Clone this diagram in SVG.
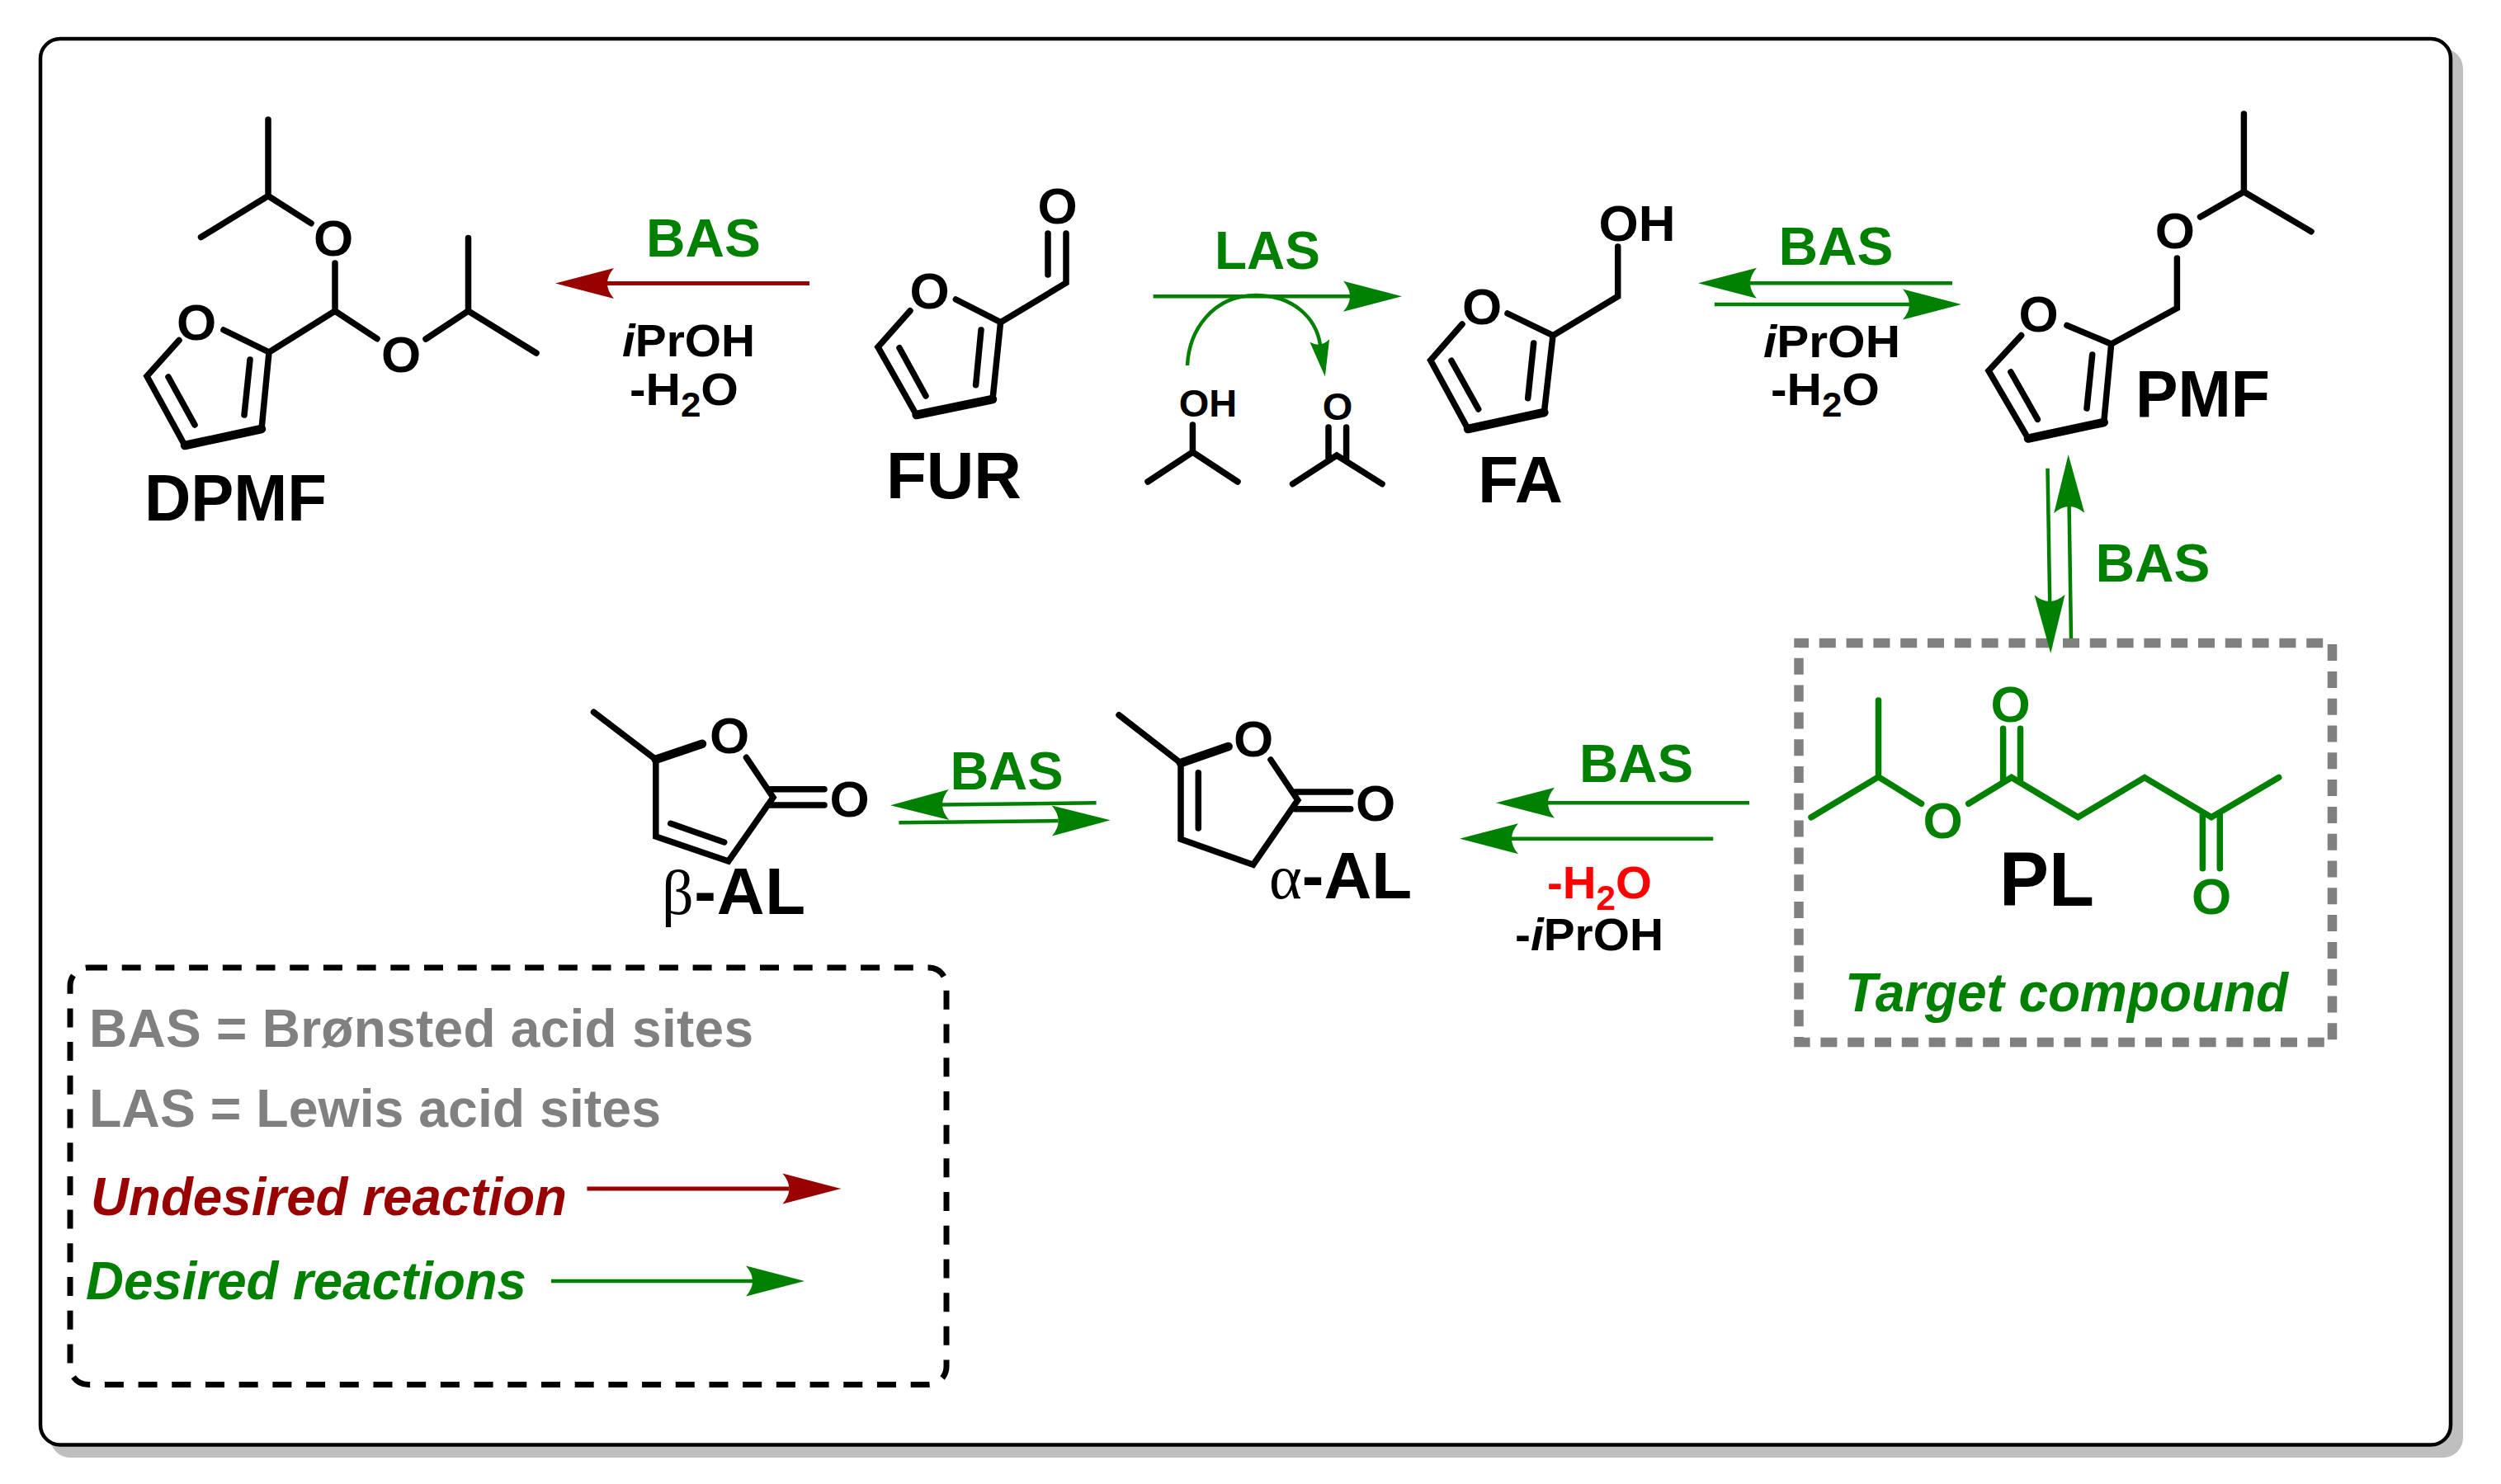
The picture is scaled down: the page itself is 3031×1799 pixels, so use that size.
<svg xmlns="http://www.w3.org/2000/svg" width="3031" height="1799" viewBox="0 0 3031 1799">
<style>
text{font-family:"Liberation Sans",Arial,sans-serif;font-weight:700;fill:#000}
.bond{fill:none;stroke:#000;stroke-width:7.500;stroke-linecap:round;stroke-linejoin:miter}
.thick{stroke-width:10.500}
.gb{stroke:#008000}
.g{fill:#008000}
.dr{fill:#990000}
.r{fill:#ff0000}
.gy{fill:#808080}
.i{font-style:italic}
.at{font-size:62px;text-anchor:middle}
.sat{font-size:47px;text-anchor:middle}
.name{font-size:80px}
.cat{font-size:64px}
.cond{font-size:56px}
.leg{font-size:64px}
.sub{font-size:42px}
.gsym{font-family:"Liberation Serif",serif;font-weight:400;font-size:76px}
.ag{fill:none;stroke:#008000;stroke-width:4.500}
.ar{fill:none;stroke:#990000;stroke-width:5}
</style>
<defs>
<marker id="hg" markerUnits="userSpaceOnUse" markerWidth="74" markerHeight="40" refX="9" refY="19.500" orient="auto" overflow="visible"><path d="M72,19.500 L1,1 Q17,19.500 1,38 Z" fill="#008000"/></marker>
<marker id="hr" markerUnits="userSpaceOnUse" markerWidth="74" markerHeight="40" refX="9" refY="19.500" orient="auto" overflow="visible"><path d="M72,19.500 L1,1 Q17,19.500 1,38 Z" fill="#990000"/></marker>
<marker id="hc" markerUnits="userSpaceOnUse" markerWidth="46" markerHeight="28" refX="5" refY="12" orient="auto" overflow="visible"><path d="M44,12 L0,0 Q9,12 0,24 Z" fill="#008000"/></marker>
</defs>

<g id="frame">
<rect x="61" y="59" width="2924" height="1708" rx="24" fill="#bfbfbf"/>
<rect x="49" y="47" width="2921" height="1704.500" rx="24" fill="#fff" stroke="#000" stroke-width="4.500"/>
</g>

<g id="DPMF">
<path class="bond" d="M325,145V237.500M243.500,287.500L325,237.500L377,270.700M406,319V377M326,427L406,377L457,410.700M516,411L567.500,377V288.500M567.500,377L650,428M271,400L326,427L317,520M224,540L178,456L217,412.500M303,436L296,503M204,457L236,515"/>
<path class="bond thick" d="M317,520L224,540"/>
<text class="at" x="404" y="310">O</text>
<text class="at" x="486" y="451">O</text>
<text class="at" x="238" y="412">O</text>
<text class="name" x="175" y="631" textLength="221" lengthAdjust="spacingAndGlyphs">DPMF</text>
</g>

<g id="FUR">
<path class="bond" d="M1270,283V333M1292,283V343L1212.600,390.700L1203,484M1158.400,363L1212.600,390.700M1110.600,503L1064,420.700L1103,376.700M1189,400L1182.600,466.700M1090,421.700L1122,480"/>
<path class="bond thick" d="M1203,484L1110.600,503"/>
<text class="at" x="1281.500" y="271">O</text>
<text class="at" x="1126.500" y="374">O</text>
<text class="name" x="1074" y="604" textLength="164" lengthAdjust="spacingAndGlyphs">FUR</text>
</g>

<g id="isopropanol">
<path class="bond" d="M1445.400,515V548M1391,584L1445.400,548L1500,584"/>
<text class="sat" x="1464" y="505">OH</text>
</g>

<g id="acetone">
<path class="bond" d="M1610,518V558M1631.600,518V558M1566.600,586.700L1620,552L1675,586.700"/>
<text class="sat" x="1621" y="509">O</text>
</g>

<g id="FA">
<path class="bond" d="M1960.700,299V359.300L1882,406.700L1871.400,500M1827,380L1882,406.700M1779,520L1733.700,436.700L1772,393M1858.700,416L1851.700,482.700M1759,437.300L1791.700,496"/>
<path class="bond thick" d="M1871.400,500L1779,520"/>
<text class="at" x="1984" y="292">OH</text>
<text class="at" x="1796" y="393">O</text>
<text class="name" x="1791" y="609" textLength="103" lengthAdjust="spacingAndGlyphs">FA</text>
</g>

<g id="PMF">
<path class="bond" d="M2719.400,138V232.500L2801,280.700M2666.500,263L2719.400,232.500M2638.400,313V373.600L2558.700,417L2549.700,512M2505,394.500L2558.700,417M2458,531.600L2410,449.500L2449.600,406.600M2535.700,430L2529,495M2436.900,451L2469.400,508.400"/>
<path class="bond thick" d="M2549.700,512L2458,531.600"/>
<text class="at" x="2635.800" y="301">O</text>
<text class="at" x="2470.700" y="402">O</text>
<text class="name" x="2588" y="505" textLength="163" lengthAdjust="spacingAndGlyphs">PMF</text>
</g>

<g id="PL">
<path class="bond gb" d="M2276.500,849V941.800M2195,990.700L2276.500,941.800L2328.600,974.200M2385.700,974.200L2437.800,942.500L2518.400,990.700L2599,942.500L2680,990.700L2761.700,942.500M2427.600,883.300V946M2448.500,883.300V946M2669.400,985.500V1052.700M2690.300,985.500V1052.700"/>
<text class="at g" x="2354.600" y="1016">O</text>
<text class="at g" x="2436.700" y="875">O</text>
<text class="at g" x="2680" y="1108">O</text>
<text x="2423" y="1097.500" font-size="92" textLength="115" lengthAdjust="spacingAndGlyphs">PL</text>
<text class="i g" x="2236" y="1226" font-size="66" textLength="537" lengthAdjust="spacingAndGlyphs">Target compound</text>
<rect x="2180" y="779.600" width="646.500" height="483.800" fill="none" stroke="#808080" stroke-width="11.500" stroke-dasharray="20 12.800" stroke-dashoffset="8"/>
</g>

<g id="alpha-AL">
<path class="bond" d="M1356,866.700L1431,925V1017.300L1518.700,1048.300L1572.800,970L1540,921M1452.300,936.700V1004M1569.700,960H1636.700M1569.700,980.700H1636.700"/>
<path class="bond thick" d="M1431,925L1488.700,905"/>
<text class="at" x="1519" y="917">O</text>
<text class="at" x="1667" y="995">O</text>
<text class="name" x="1538" y="1089"><tspan class="gsym">α</tspan>-AL</text>
</g>

<g id="beta-AL">
<path class="bond" d="M719.500,863.300L794.800,920.700V1014L882.800,1044L937,966.700L904.500,918.300M812.700,998.300L877.700,1021M933,956.700H999M933,976H999"/>
<path class="bond thick" d="M794.800,920.700L851,901.700"/>
<text class="at" x="884" y="913">O</text>
<text class="at" x="1029.500" y="990">O</text>
<text class="name" x="802" y="1108" textLength="174"><tspan class="gsym">β</tspan>-AL</text>
</g>

<g id="connectors">
<path class="ar" d="M981,343.600H736" marker-end="url(#hr)"/>
<path class="ag" d="M1397.600,359.300H1636" marker-end="url(#hg)"/>
<path class="ag" d="M1439,443C1441,400 1470,358 1522,358C1567,358 1595,385 1600,418" marker-end="url(#hc)"/>
<path class="ag" d="M2366,343.200H2121" marker-end="url(#hg)"/>
<path class="ag" d="M2077.800,369H2314" marker-end="url(#hg)"/>
<path class="ag" d="M2481.500,567.800L2484.200,729" marker-end="url(#hg)"/>
<path class="ag" d="M2510,774L2507.600,614" marker-end="url(#hg)"/>
<path class="ag" d="M2120,973.300H1876" marker-end="url(#hg)"/>
<path class="ag" d="M2076.300,1016.700H1832" marker-end="url(#hg)"/>
<path class="ag" d="M1328.600,973.300L1142,975.500" marker-end="url(#hg)"/>
<path class="ag" d="M1089.400,997.300L1282.700,995" marker-end="url(#hg)"/>
</g>

<g id="labels">
<text class="cat g" x="783" y="311" textLength="139" lengthAdjust="spacingAndGlyphs">BAS</text>
<text class="cond" x="754" y="432" textLength="161" lengthAdjust="spacingAndGlyphs"><tspan class="i">i</tspan>PrOH</text>
<text class="cond" x="763" y="491" textLength="132" lengthAdjust="spacingAndGlyphs">-H<tspan class="sub" dy="14">2</tspan><tspan dy="-14">O</tspan></text>
<text class="cat g" x="1472" y="326" textLength="128" lengthAdjust="spacingAndGlyphs">LAS</text>
<text class="cat g" x="2155.500" y="320.500" textLength="139" lengthAdjust="spacingAndGlyphs">BAS</text>
<text class="cond" x="2137" y="432.500" textLength="166" lengthAdjust="spacingAndGlyphs"><tspan class="i">i</tspan>PrOH</text>
<text class="cond" x="2146" y="490.500" textLength="132" lengthAdjust="spacingAndGlyphs">-H<tspan class="sub" dy="14">2</tspan><tspan dy="-14">O</tspan></text>
<text class="cat g" x="2539.500" y="704.800" textLength="139" lengthAdjust="spacingAndGlyphs">BAS</text>
<text class="cat g" x="1914" y="947.700" textLength="138" lengthAdjust="spacingAndGlyphs">BAS</text>
<text class="cond r" x="1875" y="1088.700" textLength="127" lengthAdjust="spacingAndGlyphs">-H<tspan class="sub r" dy="14">2</tspan><tspan dy="-14">O</tspan></text>
<text class="cond" x="1836" y="1151.700" textLength="180" lengthAdjust="spacingAndGlyphs">-<tspan class="i">i</tspan>PrOH</text>
<text class="cat g" x="1151.500" y="956.700" textLength="137" lengthAdjust="spacingAndGlyphs">BAS</text>
</g>

<g id="legend">
<rect x="85" y="1173" width="1062" height="505.600" rx="22" fill="none" stroke="#000" stroke-width="7" stroke-dasharray="23 17.700"/>
<text class="leg gy" x="108" y="1268.500" textLength="805">BAS = Brønsted acid sites</text>
<text class="leg gy" x="108" y="1365.500" textLength="693" lengthAdjust="spacingAndGlyphs">LAS = Lewis acid sites</text>
<text class="leg i dr" x="110" y="1472.500" textLength="577" lengthAdjust="spacingAndGlyphs">Undesired reaction</text>
<text class="leg i g" x="104" y="1574.500" textLength="534" lengthAdjust="spacingAndGlyphs">Desired reactions</text>
<path class="ar" d="M711.400,1441H956.400" marker-end="url(#hr)"/>
<path class="ag" d="M667.900,1552.900H912" marker-end="url(#hg)"/>
</g>
</svg>
